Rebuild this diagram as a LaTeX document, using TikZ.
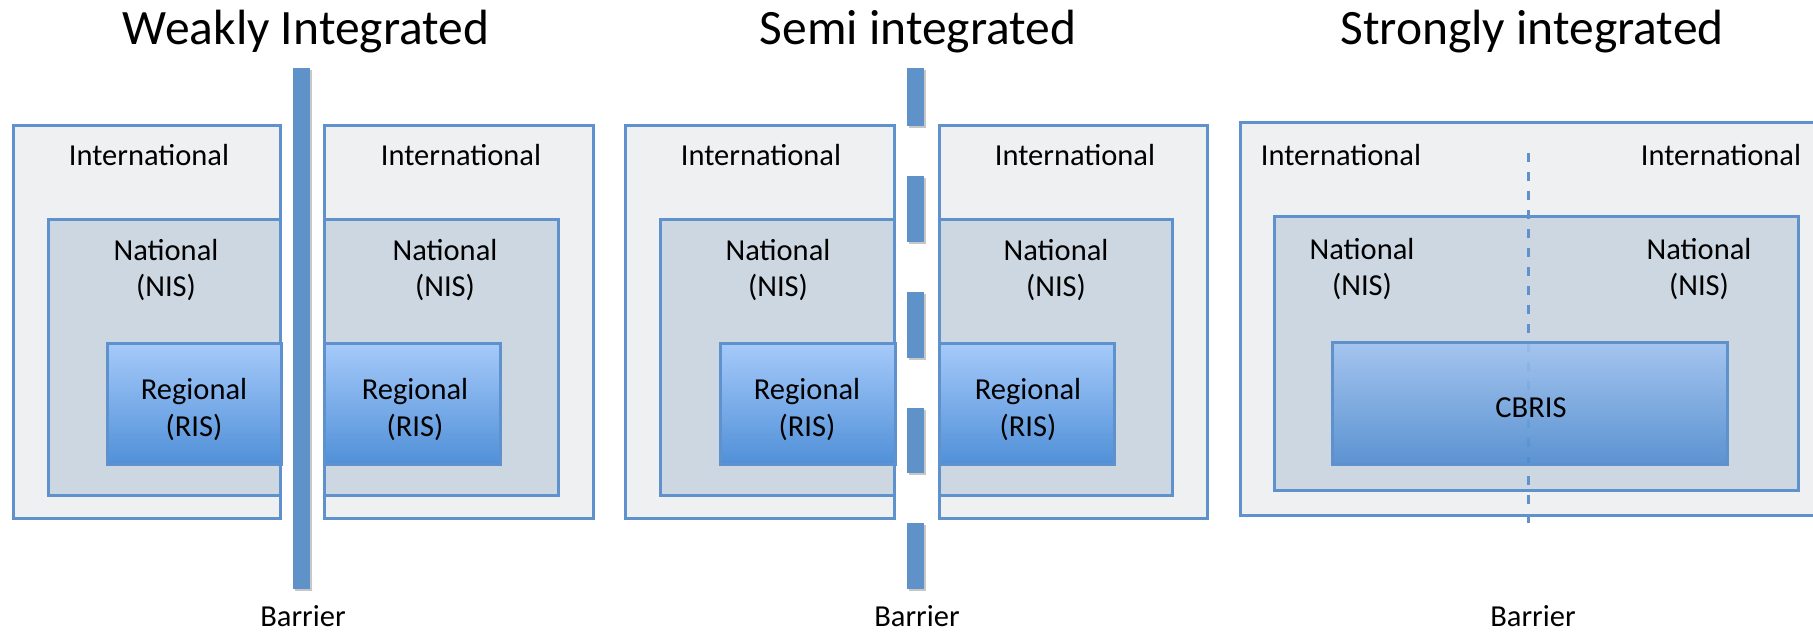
\documentclass[tikz,border=0pt]{standalone}
\usepackage{fontspec}
\setmainfont{Carlito}
\usetikzlibrary{fit,shadows}
\definecolor{boxblue}{RGB}{95,146,204}
\definecolor{outerfill}{RGB}{239,240,242}
\definecolor{natfill}{RGB}{205,215,225}
\definecolor{regtop}{RGB}{166,202,250}
\definecolor{regbot}{RGB}{80,144,216}
\definecolor{barblue}{RGB}{94,146,200}
\tikzset{
  softshadow/.style={drop shadow={shadow xshift=0.9pt, shadow yshift=-0.9pt, opacity=0.22, fill=black}},
  outerbox/.style={draw=boxblue, line width=1.2pt, fill=outerfill, inner sep=0pt, softshadow},
  natbox/.style={draw=boxblue, line width=1.2pt, fill=natfill, inner sep=0pt, softshadow},
  regbox/.style={draw=boxblue, line width=1.2pt, top color=regtop, bottom color=regbot, inner sep=0pt, softshadow},
  lbl/.style={font=\fontsize{12.2}{14}\selectfont, anchor=base, inner sep=0pt, text=black},
  ttl/.style={font=\fontsize{19.8}{23}\selectfont, anchor=base, inner sep=0pt, text=black},
  barpiece/.style={fill=barblue, softshadow},
  dashbarrier/.style={draw=boxblue, line width=1.2pt, dash pattern=on 3.6pt off 4pt}
}
\begin{document}
\begin{tikzpicture}[x=0.4pt,y=-0.4pt]
\useasboundingbox (0,0) rectangle (1813,633);
\fill[white] (0,0) rectangle (1813,633);

% ---------- Titles ----------
\node[ttl] (t1) at (306,44) {Weakly Integrated};
\node[ttl] (t2) at (918,44) {Semi integrated};
\node[ttl] (t3) at (1532,44) {Strongly integrated};

% ---------- Panel 1: weakly integrated ----------
\node[outerbox, fit={(13,125)(280,518)}] (o1a) {};
\node[natbox, fit={(48,219)(280,495)}] (n1a) {};
\node[regbox, fit={(107,343)(281,464)}] (r1a) {};
\node[outerbox, fit={(324,125)(593,518)}] (o1b) {};
\node[natbox, fit={(324,219)(558,495)}] (n1b) {};
\node[regbox, fit={(324,343)(500,464)}] (r1b) {};
\fill[barpiece] (293,68) rectangle (310,589);

\node[lbl] (i1a) at (149,165) {International};
\node[lbl] (i1b) at (461,165) {International};
\node[lbl] (na1a) at (166,260) {National};
\node[lbl] (nb1a) at (166,296) {(NIS)};
\node[lbl] (na1b) at (445,260) {National};
\node[lbl] (nb1b) at (445,296) {(NIS)};
\node[lbl] (ra1a) at (194,399) {Regional};
\node[lbl] (rb1a) at (194,436) {(RIS)};
\node[lbl] (ra1b) at (415,399) {Regional};
\node[lbl] (rb1b) at (415,436) {(RIS)};
\node[lbl] (b1) at (303,626) {Barrier};

% ---------- Panel 2: semi integrated ----------
\node[outerbox, fit={(625,125)(894,518)}] (o2a) {};
\node[natbox, fit={(660,219)(894,495)}] (n2a) {};
\node[regbox, fit={(720,343)(895,464)}] (r2a) {};
\node[outerbox, fit={(939,125)(1207,518)}] (o2b) {};
\node[natbox, fit={(939,219)(1172,495)}] (n2b) {};
\node[regbox, fit={(939,343)(1114,464)}] (r2b) {};
\foreach \ya/\yb in {68/126,176/242,292/358,408/473,523/589}
  \fill[barpiece] (907,\ya) rectangle (924,\yb);

\node[lbl] (i2a) at (761,165) {International};
\node[lbl] (i2b) at (1075,165) {International};
\node[lbl] (na2a) at (778,260) {National};
\node[lbl] (nb2a) at (778,296) {(NIS)};
\node[lbl] (na2b) at (1056,260) {National};
\node[lbl] (nb2b) at (1056,296) {(NIS)};
\node[lbl] (ra2a) at (807,399) {Regional};
\node[lbl] (rb2a) at (807,436) {(RIS)};
\node[lbl] (ra2b) at (1028,399) {Regional};
\node[lbl] (rb2b) at (1028,436) {(RIS)};
\node[lbl] (b2) at (917,626) {Barrier};

% ---------- Panel 3: strongly integrated ----------
\node[outerbox, fit={(1240,122)(1840,515)}] (o3) {};
\node[natbox, fit={(1274,216)(1798,490)}] (n3) {};
\coordinate (dtop) at (1528,153);
\coordinate (dbot) at (1528,528);
\draw[dashbarrier] (dtop) -- (dbot);
\node[regbox, fill opacity=0.85, fit={(1332,342)(1727,464)}] (c3) {};

\node[lbl] (i3a) at (1341,165) {International};
\node[lbl] (i3b) at (1721,165) {International};
\node[lbl] (na3a) at (1362,259) {National};
\node[lbl] (nb3a) at (1362,295) {(NIS)};
\node[lbl] (na3b) at (1699,259) {National};
\node[lbl] (nb3b) at (1699,295) {(NIS)};
\node[lbl] (cb3) at (1531,417) {CBRIS};
\node[lbl] (b3) at (1533,626) {Barrier};
\end{tikzpicture}
\end{document}
